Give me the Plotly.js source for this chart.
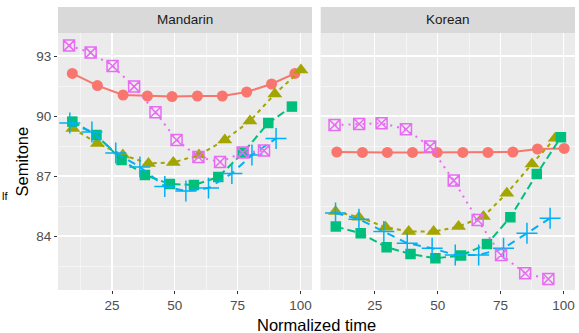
<!DOCTYPE html>
<html>
<head>
<meta charset="utf-8">
<script src="https://cdn.plot.ly/plotly-3.0.1.min.js"></script>
<style>html,body{margin:0;padding:0;background:#fff;}#chart{width:579px;height:333px;}</style>
</head>
<body>
<div id="chart"></div>
<script>
// Panels
const panels = ["Mandarin", "Korean"];
const xTicks = [25, 50, 75, 100];
const yTicks = [84, 87, 90, 93];

// Series 1 (red, circles, solid)
const s1_xM = [9.2, 19.2, 29.4, 39.1, 48.9, 59.0, 68.9, 78.6, 88.5, 97.8];
const s1_yM = [92.13, 91.52, 91.05, 91.0, 90.97, 91.0, 91.0, 91.2, 91.6, 92.13];
const s1_xK = [9.9, 20.1, 30.0, 40.0, 49.8, 60.0, 70.0, 79.9, 89.7, 100.3];
const s1_yK = [88.2, 88.18, 88.18, 88.18, 88.18, 88.18, 88.18, 88.2, 88.35, 88.38];

// Series 2 (olive, triangles, dashed)
const s2_xM = [9.4, 19.2, 29.3, 39.5, 49.4, 59.6, 69.9, 79.9, 89.8, 100.2];
const s2_yM = [89.38, 88.63, 88.05, 87.63, 87.68, 88.05, 88.8, 89.75, 91.1, 92.3];
const s2_xK = [9.4, 18.7, 29.3, 38.5, 48.4, 58.3, 68.2, 77.5, 87.5, 96.7];
const s2_yK = [85.22, 84.94, 84.44, 84.22, 84.22, 84.47, 84.97, 86.14, 87.6, 88.89];

// Series 3 (green, squares, long dash)
const s3_xM = [9.2, 18.8, 28.8, 38.1, 48.0, 57.6, 67.3, 77.2, 87.2, 96.6];
const s3_yM = [89.72, 89.05, 87.8, 87.05, 86.6, 86.55, 86.95, 88.17, 89.65, 90.47];
const s3_xK = [9.5, 19.4, 29.7, 39.2, 49.1, 59.3, 69.6, 78.9, 89.4, 99.0];
const s3_yK = [84.47, 84.14, 83.44, 83.1, 82.89, 83.02, 83.6, 84.94, 87.1, 88.94];

// Series 4 (blue, plus, dashed)
const s4_xM = [8.2, 17.0, 26.5, 36.1, 46.0, 54.4, 63.4, 72.7, 80.7, 90.3];
const s4_yM = [89.65, 89.2, 88.15, 87.45, 86.48, 86.25, 86.4, 87.13, 88.05, 88.88];
const s4_xK = [9.4, 18.7, 28.6, 37.9, 47.8, 57.0, 66.3, 76.2, 85.5, 94.7];
const s4_yK = [85.15, 84.84, 84.22, 83.64, 83.39, 83.05, 83.05, 83.39, 84.14, 84.89];

// Series 5 (magenta, boxed x, dotted)
const s5_xM = [7.9, 16.5, 25.2, 33.8, 42.3, 50.7, 59.4, 68.0, 77.0, 85.5];
const s5_yM = [93.52, 93.17, 92.5, 91.47, 90.19, 88.8, 87.95, 87.7, 88.17, 88.27];
const s5_xK = [9.0, 18.8, 27.7, 37.4, 47.0, 56.4, 65.9, 75.2, 84.8, 94.0];
const s5_yK = [89.55, 89.6, 89.64, 89.34, 88.47, 86.77, 84.8, 83.05, 82.14, 81.85];

const styles = [
  {color: "#F8766D", symbol: "circle", size: 11, dash: "solid", open: false},
  {color: "#A3A500", symbol: "triangle-up", size: 13, dash: "4px,4px", open: false},
  {color: "#00BF7D", symbol: "square", size: 10.5, dash: "8px,4px", open: false},
  {color: "#00B0F6", symbol: "cross-thin-open", size: 15, dash: "8px,6px", open: true},
  {color: "#E76BF3", symbol: "square-x-open", size: 11, dash: "2px,5px", open: true}
];
const seriesData = [
  [s1_xM, s1_yM, s1_xK, s1_yK],
  [s2_xM, s2_yM, s2_xK, s2_yK],
  [s3_xM, s3_yM, s3_xK, s3_yK],
  [s4_xM, s4_yM, s4_xK, s4_yK],
  [s5_xM, s5_yM, s5_xK, s5_yK]
];

const traces = [];
seriesData.forEach((d, i) => {
  const st = styles[i];
  [0, 1].forEach(p => {
    traces.push({
      type: "scatter", mode: "lines+markers",
      x: d[p * 2], y: d[p * 2 + 1],
      xaxis: p === 0 ? "x" : "x2", yaxis: "y",
      showlegend: false, hoverinfo: "skip",
      line: {color: st.color, width: 2, dash: st.dash},
      marker: {
        symbol: st.symbol, size: st.size, color: st.color,
        line: {color: st.color, width: st.open ? 1.5 : 0}
      }
    });
  });
});

const W = 579, H = 333;
const xd1 = [58 / W, 312 / W];
const xd2 = [320.7 / W, 575 / W];
const yd = [(H - 290) / H, (H - 33) / H];
const stripTop = (H - 7) / H;
const FONT = "Liberation Sans, Arial, sans-serif";

function xaxisDef(domain, anchor) {
  return {
    domain: domain, anchor: anchor, range: [3.5, 104.6],
    tickmode: "array", tickvals: xTicks, ticktext: xTicks.map(String),
    showgrid: true, gridcolor: "#FFFFFF", gridwidth: 1.1,
    minor: {tickmode: "array", tickvals: [12.5, 37.5, 62.5, 87.5], showgrid: true, gridcolor: "#FFFFFF", gridwidth: 0.5, ticks: ""},
    zeroline: false, showline: false,
    ticks: "outside", ticklen: 3, tickwidth: 1, tickcolor: "#333333",
    tickfont: {family: FONT, size: 13.5, color: "#4D4D4D"},
    fixedrange: true
  };
}

const layout = {
  width: W, height: H,
  margin: {l: 0, r: 0, t: 0, b: 0},
  paper_bgcolor: "#FFFFFF",
  plot_bgcolor: "#EBEBEB",
  xaxis: xaxisDef(xd1, "y"),
  xaxis2: xaxisDef(xd2, "y"),
  yaxis: {
    domain: yd, anchor: "x", range: [81.3, 94.15],
    tickmode: "array", tickvals: yTicks, ticktext: yTicks.map(String),
    showgrid: true, gridcolor: "#FFFFFF", gridwidth: 1.1,
    minor: {tickmode: "array", tickvals: [82.5, 85.5, 88.5, 91.5], showgrid: true, gridcolor: "#FFFFFF", gridwidth: 0.5, ticks: ""},
    zeroline: false, showline: false,
    ticks: "outside", ticklen: 3, tickwidth: 1, tickcolor: "#333333",
    tickfont: {family: FONT, size: 13.5, color: "#4D4D4D"},
    fixedrange: true
  },
  shapes: [
    {type: "rect", xref: "paper", yref: "paper", x0: xd2[0], x1: xd2[1], y0: yd[0], y1: yd[1], fillcolor: "#EBEBEB", line: {width: 0}, layer: "below"},
    {type: "rect", xref: "paper", yref: "paper", x0: xd1[0], x1: xd1[1], y0: yd[1], y1: stripTop, fillcolor: "#D9D9D9", line: {width: 0}},
    {type: "rect", xref: "paper", yref: "paper", x0: xd2[0], x1: xd2[1], y0: yd[1], y1: stripTop, fillcolor: "#D9D9D9", line: {width: 0}}
  ],
  annotations: [
    {xref: "paper", yref: "paper", x: (xd1[0] + xd1[1]) / 2, y: (yd[1] + stripTop) / 2, text: panels[0], showarrow: false,
     font: {family: FONT, size: 13.5, color: "#1A1A1A"}, xanchor: "center", yanchor: "middle"},
    {xref: "paper", yref: "paper", x: (xd2[0] + xd2[1]) / 2, y: (yd[1] + stripTop) / 2, text: panels[1], showarrow: false,
     font: {family: FONT, size: 13.5, color: "#1A1A1A"}, xanchor: "center", yanchor: "middle"},
    {xref: "paper", yref: "paper", x: (xd1[0] + xd2[1]) / 2, y: -0.008, yanchor: "bottom", xanchor: "center", text: "Normalized time", showarrow: false,
     font: {family: FONT, size: 16.5, color: "#000000"}},
    {xref: "paper", yref: "paper", x: 21 / W, y: (yd[0] + yd[1]) / 2, text: "Semitone", textangle: -90, showarrow: false,
     xanchor: "center", yanchor: "middle",
     font: {family: FONT, size: 16.5, color: "#000000"}},
    {xref: "paper", yref: "paper", x: 0, y: (H - 196) / H, text: "lf", showarrow: false, xanchor: "left", yanchor: "middle",
     font: {family: FONT, size: 11, color: "#000000"}}
  ]
};

Plotly.newPlot("chart", traces, layout, {staticPlot: true, displayModeBar: false});
</script>
</body>
</html>
